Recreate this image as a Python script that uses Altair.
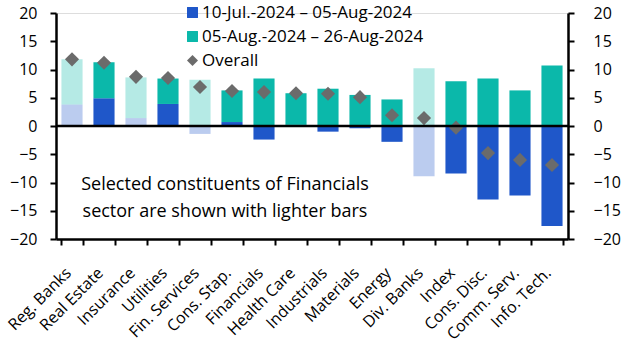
import altair as alt
import pandas as pd

categories = ["Reg. Banks", "Real Estate", "Insurance", "Utilities", "Fin. Services",
              "Cons. Stap.", "Financials", "Health Care", "Industrials", "Materials",
              "Energy", "Div. Banks", "Index", "Cons. Disc.", "Comm. Serv.", "Info. Tech."]
period1 = [3.8, 4.9, 1.4, 3.9, -1.4, 0.7, -2.4, 0.2, -1.0, -0.4, -2.8, -8.9, -8.4, -13.0, -12.3, -17.7]
period2 = [8.0, 6.4, 7.2, 4.5, 8.2, 5.6, 8.4, 5.6, 6.6, 5.5, 4.7, 10.2, 7.9, 8.4, 6.3, 10.7]
overall = [11.8, 11.2, 8.7, 8.5, 6.9, 6.2, 6.0, 5.8, 5.7, 5.1, 1.9, 1.4, -0.3, -4.8, -6.0, -6.9]
financial_constituents = ["Reg. Banks", "Insurance", "Fin. Services", "Div. Banks"]
y_ticks = [-20, -15, -10, -5, 0, 5, 10, 15, 20]

s1 = "10-Jul.-2024 \u2013 05-Aug-2024"
s2 = "05-Aug.-2024 \u2013 26-Aug-2024"
s3 = "Overall"

FONT = "Open Sans"
BLUE = "#1f57c9"
TEAL = "#0bb8aa"
GREY = "#6b6b6b"

rows = []
for i, c in enumerate(categories):
    light = "light" if c in financial_constituents else "dark"
    rows.append({"cat": c, "series": s1, "value": period1[i], "ord": 0, "light": light})
    rows.append({"cat": c, "series": s2, "value": period2[i], "ord": 1, "light": light})
bars_df = pd.DataFrame(rows)
pts_df = pd.DataFrame({"cat": categories, "value": overall, "series": [s3] * len(categories)})

yscale = alt.Scale(domain=[-20, 20], nice=False)
xenc = alt.X("cat:N", sort=categories, title=None,
             scale=alt.Scale(paddingInner=0.34, paddingOuter=0.17),
             axis=alt.Axis(labelAngle=315, labelFontSize=16, labelFont=FONT, labelColor="black",
                           domainColor="black", domainWidth=2.5, tickColor="black", tickWidth=2,
                           tickSize=6, tickBand="extent", labelPadding=25, labelOffset=-4,
                           labelAlign="right", labelBaseline="middle"))

color_scale = alt.Scale(domain=[s1, s2, s3], range=[BLUE, TEAL, GREY])
shape_scale = alt.Scale(domain=[s1, s2, s3], range=["square", "square", "diamond"])
legend = alt.Legend(title=None, orient="none", legendX=128, legendY=-9, labelFont=FONT,
                    labelFontSize=17, labelColor="black", symbolSize=120, rowPadding=6,
                    symbolStrokeWidth=0, padding=0, labelOffset=1, symbolOpacity=1, labelLimit=0)

axis_common = dict(values=y_ticks, labelFontSize=16, labelFont=FONT, labelColor="black",
                   domainColor="black", domainWidth=2.5, tickColor="black", tickWidth=2,
                   tickSize=6, grid=False, title=None, labelOverlap=False)
left_axis = alt.Axis(labelPadding=13, **axis_common)
right_axis = alt.Axis(orient="right", labelPadding=19, **axis_common)

bars = alt.Chart(bars_df).mark_bar().encode(
    x=xenc,
    y=alt.Y("value:Q", stack="zero", scale=yscale, axis=left_axis),
    color=alt.Color("series:N", scale=color_scale, legend=legend),
    opacity=alt.Opacity("light:N", scale=alt.Scale(domain=["dark", "light"], range=[1, 0.3]), legend=None),
    order=alt.Order("ord:Q"),
)

points = alt.Chart(pts_df).mark_point(filled=True, size=200, opacity=1).encode(
    x=alt.X("cat:N", sort=categories),
    y=alt.Y("value:Q", scale=yscale, axis=left_axis),
    color=alt.Color("series:N", scale=color_scale, legend=legend),
    shape=alt.Shape("series:N", scale=shape_scale, legend=legend),
)

note = alt.Chart(pd.DataFrame({"t": [["Selected constituents of Financials", "sector are shown with lighter bars"]]})).mark_text(
    font=FONT, fontSize=18, color="black", align="center", baseline="middle", lineHeight=27
).encode(text="t", x=alt.value(169), y=alt.datum(-10.5, scale=yscale, axis=left_axis))

left = alt.layer(bars, points, note)

zero = alt.Chart(pd.DataFrame({"z": [0]})).mark_rule(color="black", strokeWidth=2.5).encode(
    y=alt.Y("z:Q", scale=yscale, axis=right_axis)
)

chart = alt.layer(left, zero).resolve_scale(y="independent").properties(
    width=512, height=226,
    autosize=alt.AutoSizeParams(type="none"),
    padding={"left": 56, "top": 13, "right": 59, "bottom": 114},
).configure_view(stroke=None).configure(background="white")

chart.save("out.html", embed_options={"renderer": "svg", "actions": False})
